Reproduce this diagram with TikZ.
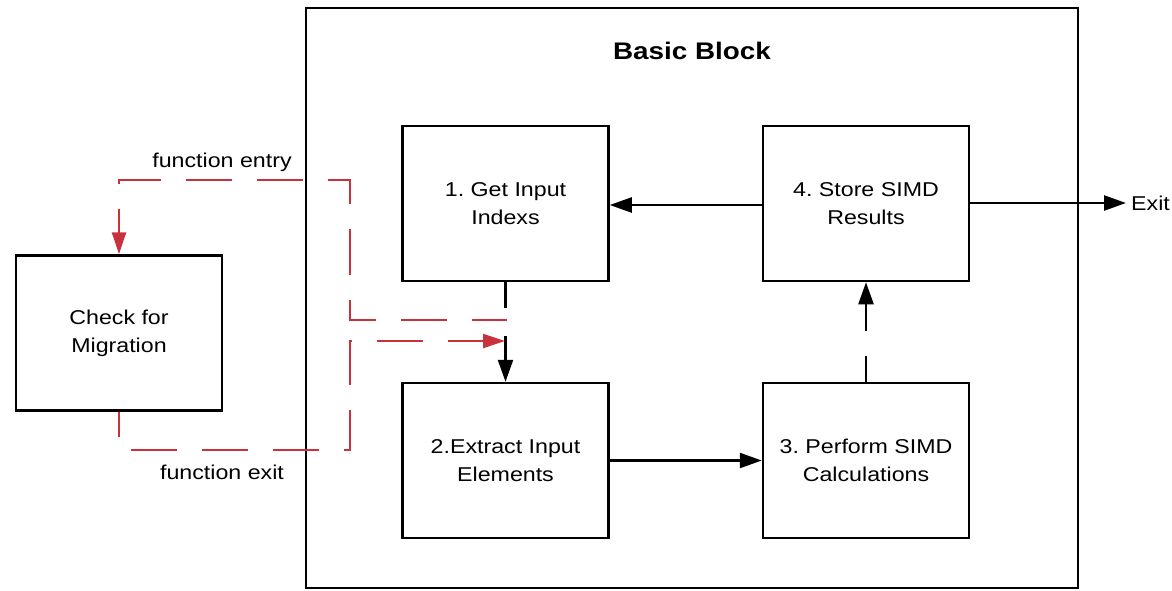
\documentclass[tikz,border=0pt]{standalone}
\usepackage{fontspec}
\setmainfont[FakeStretch=1.16]{Liberation Sans}
\usetikzlibrary{arrows.meta}
\definecolor{flowred}{HTML}{C8323C}
\tikzset{redtip/.tip={Triangle[length=22pt,width=14pt]}}
\begin{document}
\frenchspacing
\begin{tikzpicture}[x=1pt,y=-1pt,
  box/.style={draw=black, line width=2.5pt, minimum width=206pt, minimum height=155pt, align=center, font=\fontsize{20}{28}\selectfont, inner sep=0pt},
  arr/.style={draw=black, line width=2.4pt, -{Triangle[length=22pt,width=15pt]}},
  redline/.style={draw=flowred, line width=2.4pt, dash pattern=on 46pt off 25pt},
  lbl/.style={font=\fontsize{20}{24}\selectfont, inner sep=0pt}]
\useasboundingbox (0,0) rectangle (1172,590);
% outer basic block
\node[draw=black, line width=2.5pt, minimum width=772pt, minimum height=580pt, inner sep=0pt] (bb) at (692,298) {};
\node[font=\bfseries\fontsize{24}{28}\selectfont, inner sep=0pt] (title) at (692,51) {Basic Block};
% boxes
\node[box] (b1) at (505.5,203.5) {1. Get Input\\Indexs};
\node[box] (b4) at (866,203.5) {4. Store SIMD\\Results};
\node[box] (b2) at (505.5,460.5) {2.Extract Input\\Elements};
\node[box] (b3) at (866,460.5) {3. Perform SIMD\\Calculations};
\node[box] (chk) at (119,333) {Check for\\Migration};
% black arrows
\draw[arr] (b4.west |- 0,205) -- (b1.east |- 0,205);
\draw[arr, dash pattern=on 26pt off 28pt on 100pt] (b1.south) -- (b2.north);
\draw[arr] (b2.east) -- (b3.west);
\draw[arr, dash pattern=on 26pt off 25pt on 80pt] (b3.north) -- (b4.south);
\coordinate (exitpt) at (1126,203);
\draw[arr] (b4.east |- exitpt) -- (exitpt);
\node[lbl, anchor=west] (exitlbl) at (1131,203) {Exit};
% red dashed paths
\coordinate (e0) at (507,320);
\draw[redline, dash phase=22pt, redtip-] (chk.north) -- (119,180) -- (350,180) -- (350,320) -- (e0);
\coordinate (x1) at (505,341);
\draw[redline, dash phase=21pt, -redtip] (chk.south) -- (119,450) -- (350,450) -- (350,341) -- (x1);
\node[lbl] (fentry) at (222,162) {function entry};
\node[lbl] (fexit) at (222,472) {function exit};
\end{tikzpicture}
\end{document}
